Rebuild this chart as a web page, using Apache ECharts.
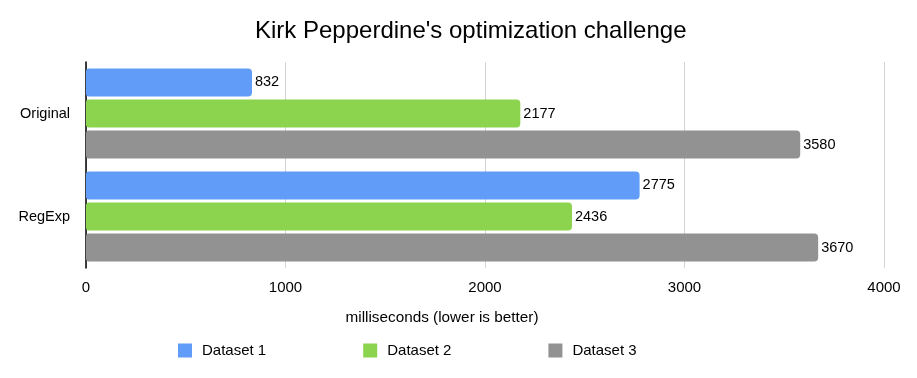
<!DOCTYPE html>
<html>
<head>
<meta charset="utf-8">
<script src="https://cdn.jsdelivr.net/npm/echarts@6/dist/echarts.min.js"></script>
<style>html,body{margin:0;padding:0;background:#fff;}#c{width:917px;height:378px;}</style>
</head>
<body>
<div id="c"></div>
<script>
const categories = ['Original', 'RegExp'];
const dataset1 = [832, 2775];
const dataset2 = [2177, 2436];
const dataset3 = [3580, 3670];
const seriesNames = ['Dataset 1', 'Dataset 2', 'Dataset 3'];
const xTicks = [0, 1000, 2000, 3000, 4000];

const FONT = '"Liberation Sans", Arial, Helvetica, sans-serif';
const colors = ['#619DF8', '#8CD34E', '#929292'];
const chart = echarts.init(document.getElementById('c'), null, {renderer: 'canvas'});
const mk = (name, data, color) => ({
  name, type: 'bar', data, barWidth: 28, barGap: '11%',
  itemStyle: {color, borderRadius: [3, 4, 4, 3]},
  label: {show: true, position: 'right', distance: 3, color: '#000', fontSize: 14.5, fontFamily: FONT},
  emphasis: {disabled: true}
});
chart.setOption({
  animation: false,
  textStyle: {fontFamily: FONT},
  title: {text: "Kirk Pepperdine's optimization challenge", left: 250, top: 14,
    textStyle: {fontSize: 24, fontWeight: 'normal', color: '#000', fontFamily: FONT}},
  grid: {left: 86, right: 33, top: 62, bottom: 110},
  legend: {bottom: 15, left: 173, itemWidth: 14, itemHeight: 14, itemGap: 97, icon: 'rect',
    textStyle: {fontSize: 15, color: '#000', fontFamily: FONT, padding: [0, 0, 0, 5]}, data: seriesNames},
  xAxis: {type: 'value', min: xTicks[0], max: xTicks[xTicks.length - 1], interval: 1000,
    name: 'milliseconds (lower is better)', nameLocation: 'middle', nameGap: 42,
    nameTextStyle: {fontSize: 15.3, color: '#000', fontFamily: FONT, padding: [0, 86, 0, 0]},
    axisLine: {show: false}, axisTick: {show: false},
    axisLabel: {fontSize: 15, color: '#000', margin: 12, fontFamily: FONT, formatter: v => String(v)},
    splitLine: {lineStyle: {color: '#d4d4d4', width: 1}}},
  yAxis: {type: 'category', data: categories, inverse: true,
    axisLine: {lineStyle: {color: '#000', width: 1.5}}, axisTick: {show: false},
    axisLabel: {fontSize: 14.5, color: '#000', margin: 16, fontFamily: FONT}},
  series: [mk(seriesNames[0], dataset1, colors[0]), mk(seriesNames[1], dataset2, colors[1]), mk(seriesNames[2], dataset3, colors[2])]
});
</script>
</body>
</html>
